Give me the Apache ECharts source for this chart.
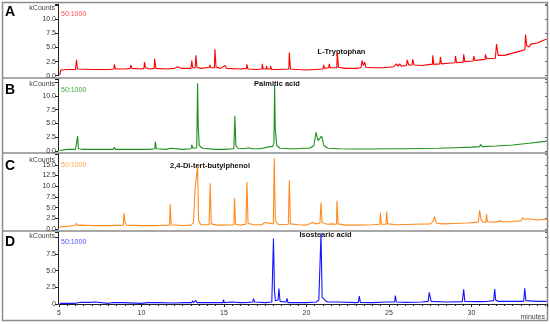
<!DOCTYPE html>
<html>
<head>
<meta charset="utf-8">
<script src="https://cdn.jsdelivr.net/npm/echarts@6/dist/echarts.min.js"></script>
<style>html,body{margin:0;padding:0;background:#fff}#c{width:550px;height:324px}</style>
</head>
<body>
<div id="c"></div>
<script>
// ---- data: [retention time (min), intensity (kCounts)] ----
const traceA = [[5.05,0.1],[5.1,1.0],[5.5,1.1],[6.0,1.1],[6.06,2.8],[6.12,1.2],[7.0,1.1],[8.0,1.1],[8.33,1.2],[8.36,2.0],[8.42,1.2],[9.0,1.2],[9.32,1.3],[9.35,1.9],[9.42,1.3],[10.0,1.2],[10.15,1.3],[10.18,2.4],[10.25,1.4],[10.5,1.2],[10.77,1.3],[10.8,3.0],[10.87,1.3],[11.5,1.2],[12.0,1.3],[12.2,1.6],[12.4,1.3],[13.0,1.3],[13.05,2.7],[13.1,1.4],[13.25,1.4],[13.3,3.6],[13.36,1.5],[13.6,1.3],[14.1,1.5],[14.15,1.9],[14.2,1.4],[14.42,1.4],[14.45,4.7],[14.52,1.5],[14.8,1.3],[15.07,1.8],[15.15,1.3],[16.0,1.2],[16.36,1.3],[16.39,2.0],[16.45,1.2],[17.0,1.1],[17.3,1.2],[17.32,2.1],[17.38,1.2],[17.55,1.2],[17.58,1.7],[17.62,1.2],[17.8,1.2],[17.83,1.7],[17.88,1.1],[18.3,1.1],[18.93,1.2],[18.96,4.1],[19.03,1.2],[19.5,1.1],[20.0,1.0],[20.5,1.1],[21.0,1.2],[21.04,1.9],[21.1,1.3],[21.35,1.4],[21.38,2.1],[21.44,1.4],[21.84,1.4],[21.87,4.1],[21.94,1.5],[22.3,1.3],[22.35,1.6],[22.4,1.3],[23.0,1.3],[23.3,1.4],[23.37,2.7],[23.45,1.8],[23.53,2.4],[23.6,1.5],[24.0,1.4],[24.5,1.4],[24.6,1.7],[24.7,1.4],[25.3,1.6],[25.45,2.1],[25.55,1.7],[25.65,2.1],[25.75,1.7],[26.07,1.8],[26.1,2.8],[26.2,1.9],[26.4,1.9],[26.44,2.9],[26.52,1.9],[27.0,1.8],[27.5,2.0],[27.63,2.0],[27.66,3.6],[27.72,2.0],[28.08,2.1],[28.12,3.3],[28.18,2.1],[28.6,2.2],[29.0,2.3],[29.03,3.5],[29.1,2.3],[29.5,2.4],[29.53,3.8],[29.6,2.5],[30.1,2.6],[30.14,3.5],[30.2,2.7],[30.5,2.8],[30.82,2.9],[30.85,3.8],[30.92,3.0],[31.45,3.1],[31.52,5.6],[31.62,3.6],[32.0,3.6],[32.5,4.0],[33.0,4.4],[33.24,4.6],[33.28,7.3],[33.35,5.3],[33.5,5.1],[33.6,5.6],[33.7,5.4],[34.0,5.8],[34.3,6.2],[34.56,6.5]];

const traceB = [[5.05,0.1],[5.1,0.2],[5.5,0.3],[6.0,0.3],[6.1,0.4],[6.13,2.7],[6.18,0.4],[6.5,0.3],[7.0,0.3],[7.5,0.3],[7.6,0.5],[7.7,0.3],[8.3,0.3],[8.36,0.7],[8.42,0.3],[9.0,0.3],[9.5,0.3],[10.0,0.3],[10.5,0.3],[10.81,0.4],[10.84,1.7],[10.9,0.4],[11.5,0.3],[11.75,0.5],[11.85,0.3],[12.5,0.3],[13.0,0.4],[13.05,1.1],[13.12,0.5],[13.35,0.6],[13.4,12.3],[13.44,4.5],[13.5,1.0],[13.7,0.5],[14.5,0.3],[15.0,0.3],[15.6,0.4],[15.66,6.4],[15.72,1.0],[15.85,0.5],[16.2,0.4],[16.5,0.6],[16.7,0.4],[17.2,0.4],[17.8,0.8],[17.85,1.0],[17.95,0.8],[18.03,1.5],[18.07,12.0],[18.11,4.0],[18.2,1.0],[18.4,0.5],[19.0,0.4],[19.5,0.4],[19.8,0.5],[20.2,0.5],[20.45,1.0],[20.58,3.4],[20.7,1.9],[20.8,1.7],[20.92,2.7],[21.05,1.0],[21.3,0.5],[22.0,0.4],[23.0,0.35],[24.0,0.35],[25.0,0.4],[26.0,0.4],[27.0,0.45],[28.0,0.5],[29.0,0.6],[30.0,0.7],[30.5,0.8],[30.55,1.2],[30.65,0.8],[31.5,0.9],[32.5,1.1],[33.5,1.4],[34.56,1.8]];

const traceC = [[5.05,0.5],[5.1,0.7],[6.0,0.8],[6.05,1.3],[6.15,0.8],[6.3,0.9],[7.0,0.8],[8.0,0.8],[8.9,0.9],[8.94,3.7],[9.0,1.6],[9.1,0.9],[10.0,0.8],[11.0,0.8],[11.7,0.9],[11.74,5.8],[11.8,1.0],[12.5,0.8],[13.0,0.9],[13.15,1.5],[13.25,9.5],[13.33,9.8],[13.4,14.7],[13.46,2.0],[13.6,1.0],[14.1,1.0],[14.16,10.7],[14.23,1.2],[14.6,0.9],[15.0,0.9],[15.6,1.0],[15.64,7.2],[15.7,1.1],[16.0,0.9],[16.33,1.1],[16.39,11.0],[16.46,1.3],[16.6,1.2],[16.7,1.5],[16.8,1.0],[17.3,1.0],[17.45,1.5],[17.55,1.1],[17.99,1.2],[18.05,16.5],[18.11,2.0],[18.3,1.0],[18.9,1.1],[18.96,11.4],[19.03,1.2],[19.5,1.0],[20.0,0.9],[20.35,1.5],[20.45,1.9],[20.6,1.2],[20.82,1.4],[20.88,6.2],[20.95,1.5],[21.1,1.3],[21.2,1.5],[21.3,1.1],[21.5,1.2],[21.58,1.0],[21.82,1.1],[21.85,6.6],[21.92,1.2],[22.3,0.9],[23.0,0.9],[24.0,1.0],[24.45,1.1],[24.48,3.8],[24.54,1.1],[24.82,1.1],[24.86,4.1],[24.92,1.2],[25.5,1.0],[26.5,1.1],[27.5,1.2],[27.68,1.8],[27.77,2.9],[27.86,1.4],[28.2,1.2],[28.96,1.3],[29.0,1.7],[29.05,1.3],[29.8,1.4],[30.42,1.6],[30.5,4.4],[30.58,2.2],[30.7,1.6],[30.88,1.6],[30.91,3.5],[30.97,1.7],[31.5,1.6],[31.7,1.9],[31.9,1.7],[32.3,1.7],[32.6,1.8],[33.0,1.9],[33.1,2.6],[33.15,2.9],[33.25,2.2],[33.43,2.4],[33.5,2.0],[34.0,2.1],[34.56,2.3]];

const traceD = [[5.05,0.1],[6.0,0.1],[6.3,0.25],[6.4,0.1],[6.8,0.25],[6.9,0.1],[7.2,0.3],[7.3,0.1],[8.0,0.1],[8.2,0.2],[8.3,0.1],[8.9,0.2],[9.0,0.1],[10.0,0.1],[10.4,0.2],[10.5,0.1],[11.0,0.2],[11.1,0.1],[12.0,0.15],[12.6,0.2],[12.65,0.4],[12.7,0.2],[13.05,0.2],[13.1,0.5],[13.15,0.2],[13.27,0.3],[13.3,0.55],[13.35,0.2],[14.0,0.2],[14.5,0.2],[14.94,0.2],[14.97,0.65],[15.02,0.2],[15.45,0.3],[15.5,0.5],[15.55,0.2],[16.0,0.2],[16.5,0.25],[16.75,0.3],[16.79,0.8],[16.85,0.3],[17.5,0.2],[17.9,0.3],[18.0,9.8],[18.06,2.0],[18.12,0.5],[18.28,0.6],[18.33,2.3],[18.4,0.4],[18.5,0.3],[18.77,0.3],[18.82,0.85],[18.88,0.2],[19.5,0.2],[20.0,0.2],[20.6,0.3],[20.75,0.6],[20.88,10.5],[20.95,1.0],[21.03,1.2],[21.15,0.5],[21.3,0.3],[21.9,0.3],[21.95,0.45],[22.0,0.25],[23.0,0.2],[23.15,0.25],[23.2,1.2],[23.27,0.25],[24.0,0.2],[24.9,0.3],[24.95,0.4],[25.0,0.25],[25.34,0.3],[25.39,1.25],[25.45,0.3],[26.0,0.25],[27.0,0.3],[27.38,0.4],[27.44,1.75],[27.5,1.7],[27.56,0.4],[28.5,0.3],[29.45,0.35],[29.53,2.2],[29.6,0.4],[30.5,0.35],[31.0,0.4],[31.35,0.5],[31.41,2.25],[31.47,0.6],[31.6,0.4],[32.5,0.4],[33.17,0.4],[33.23,2.35],[33.3,0.5],[34.0,0.4],[34.56,0.4]];

const panelLetters = ['A','B','C','D'];
const compoundNames = ['L-Tryptophan','Palmitic acid','2,4-Di-tert-butylphenol','Isostearic acid'];
const ratioLabel = '50:1000';
const yUnit = 'kCounts';
const xUnit = 'minutes';
const yMaxLabel = [10, 10, 15, 7.5];   // highest labelled tick per panel
const yAxisMax = [12.71, 13.09, 17.52, 10.78];
const lineColors = ['#ff0000', '#1f8f1f', '#ff8a1e', '#1414ff'];
const ratioColors = ['#ff5050', '#3aa63a', '#ffa54a', '#5050ff'];

// ---- layout ----
const grids = [
  {top: 4,   height: 71.7},
  {top: 79,  height: 72},
  {top: 154, height: 75},
  {top: 232, height: 72}
];
const traces = [traceA, traceB, traceC, traceD];
const FONT = 'Liberation Sans, Arial, sans-serif';

const option = {
  animation: false,
  backgroundColor: '#fff',
  grid: grids.map(g => ({left: 59, right: 3, top: g.top, height: g.height})),
  xAxis: grids.map((g, i) => ({
    type: 'value', gridIndex: i, min: 5, max: 34.58, interval: 5,
    show: i === 3,
    axisLine: {show: true, lineStyle: {color: '#222', width: 1}},
    axisTick: {show: true, length: 3, lineStyle: {color: '#222'}},
    minorTick: {show: true, splitNumber: 10, length: 2, lineStyle: {color: '#222'}},
    axisLabel: {show: true, fontSize: 7, color: '#333', fontFamily: FONT, margin: 6, showMaxLabel: false},
    splitLine: {show: false}
  })),
  yAxis: [],
  series: [],
  graphic: []
};

grids.forEach((g, i) => {
  option.yAxis.push({
    type: 'value', gridIndex: i, min: 0, max: yAxisMax[i], interval: 2.5, position: 'left', offset: 1,
    axisLine: {show: true, onZero: false, lineStyle: {color: '#222', width: 1}},
    axisTick: {show: true, length: 3, lineStyle: {color: '#222'}},
    axisLabel: {
      fontSize: 7, color: '#333', fontFamily: FONT, margin: 2,
      formatter: v => (v > yMaxLabel[i] + 1e-6) ? '' : (i === 3 && v === 0 ? '0' : v.toFixed(1))
    },
    splitLine: {show: false}
  });
  option.yAxis.push({
    type: 'value', gridIndex: i, min: 0, max: yAxisMax[i], interval: 2.5, position: 'right',
    axisLine: {show: true, onZero: false, lineStyle: {color: '#888', width: 1}},
    axisTick: {show: true, inside: true, length: 2, lineStyle: {color: '#666'}},
    axisLabel: {show: false},
    splitLine: {show: false}
  });
  option.series.push({
    type: 'line', xAxisIndex: i, yAxisIndex: i * 2, data: traces[i],
    showSymbol: false, symbol: 'none',
    lineStyle: {color: lineColors[i], width: 1.1},
    silent: true
  });
});

// frame and dividers
const G = option.graphic;
G.push({type: 'rect', shape: {x: 2.5, y: 2.5, width: 545, height: 318}, style: {fill: 'none', stroke: '#8c8c8c', lineWidth: 1.5}, silent: true});
[78, 153, 231].forEach(y => G.push({type: 'line', shape: {x1: 3, y1: y, x2: 547, y2: y}, style: {stroke: '#8c8c8c', lineWidth: 1.5}, silent: true}));

// texts
const letterY = [12, 90, 166, 242];
const unitY = [8, 84, 160, 236];
const ratioY = [14.5, 90.5, 165.5, 242];
const nameX = [341.5, 277, 210, 325.5];
const nameY = [51.5, 84.3, 166, 235];
for (let i = 0; i < 4; i++) {
  G.push({type: 'text', x: 5, y: letterY[i], style: {text: panelLetters[i], font: 'bold 14px ' + FONT, fill: '#000', textVerticalAlign: 'middle', verticalAlign: 'middle'}});
  G.push({type: 'text', x: 55, y: unitY[i], style: {text: yUnit, font: '7px ' + FONT, fill: '#444', textAlign: 'right', align: 'right', textVerticalAlign: 'middle', verticalAlign: 'middle'}});
  G.push({type: 'text', x: 61, y: ratioY[i], style: {text: ratioLabel, font: '7px ' + FONT, fill: ratioColors[i], textVerticalAlign: 'middle', verticalAlign: 'middle'}});
  G.push({type: 'text', x: nameX[i], y: nameY[i], style: {text: compoundNames[i], font: 'bold 7.5px ' + FONT, fill: '#111', textAlign: 'center', align: 'center', textVerticalAlign: 'middle', verticalAlign: 'middle'}});
}
G.push({type: 'text', x: 545, y: 317, style: {text: xUnit, font: '7px ' + FONT, fill: '#444', textAlign: 'right', align: 'right', textVerticalAlign: 'middle', verticalAlign: 'middle'}});

const chart = echarts.init(document.getElementById('c'), null, {renderer: 'canvas'});
chart.setOption(option);
</script>
</body>
</html>
